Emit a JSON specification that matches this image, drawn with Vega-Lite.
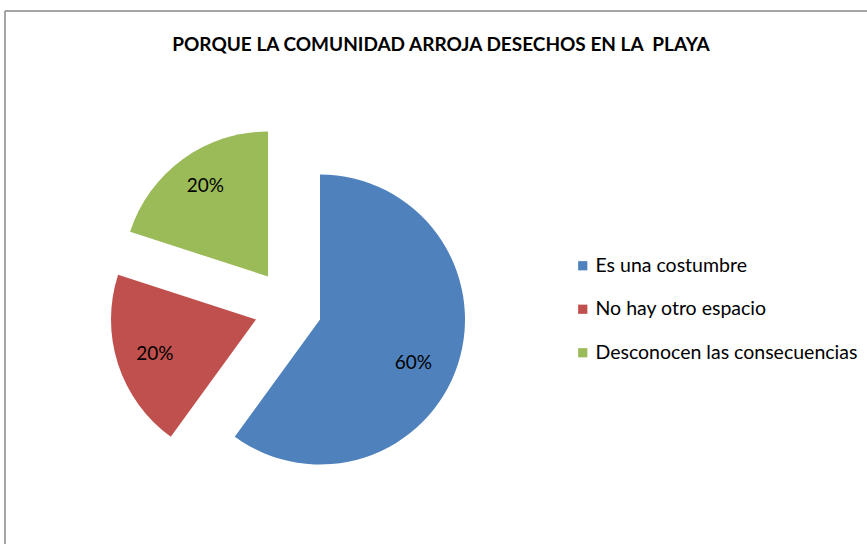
{
  "$schema": "https://vega.github.io/schema/vega-lite/v6.json",
  "width": 862,
  "height": 533,
  "autosize": {"type": "none"},
  "padding": {"left": 5, "top": 11, "right": 0, "bottom": 0},
  "background": "white",
  "config": {"view": {"stroke": null}, "font": "Lato"},
  "title": {
    "text": "PORQUE LA COMUNIDAD ARROJA DESECHOS EN LA \u00a0PLAYA",
    "fontSize": 19,
    "fontWeight": "bold",
    "font": "Lato",
    "color": "#000000",
    "anchor": "middle",
    "offset": -45,
    "dx": 5
  },
  "data": {
    "values": [
      {"causa": "Es una costumbre", "porcentaje": 0.6},
      {"causa": "No hay otro espacio", "porcentaje": 0.2},
      {"causa": "Desconocen las consecuencias", "porcentaje": 0.2}
    ]
  },
  "transform": [
    {"stack": "porcentaje", "groupby": [], "as": ["inicio", "fin"]}
  ],
  "layer": [
    {
      "data": {"values": [{}]},
      "mark": {"type": "rule", "color": "#878787", "strokeWidth": 1.5},
      "encoding": {"x": {"value": 0}}
    },
    {
      "data": {"values": [{}]},
      "mark": {"type": "rule", "color": "#878787", "strokeWidth": 1.5},
      "encoding": {"y": {"value": 0}}
    },
    {
      "transform": [{"filter": "datum.causa === 'Es una costumbre'"}],
      "mark": {"type": "arc", "outerRadius": 145, "xOffset": -116, "yOffset": 42},
      "encoding": {
        "theta": {"field": "inicio", "type": "quantitative", "scale": {"domain": [0, 1], "range": [0, 6.283185307179586]}},
        "theta2": {"field": "fin"},
        "color": {
          "field": "causa", "type": "nominal",
          "scale": {"domain": ["Es una costumbre", "No hay otro espacio", "Desconocen las consecuencias"], "range": ["#4F81BD", "#C0504D", "#9BBB59"]},
          "legend": {
            "title": null, "orient": "none", "legendX": 568, "legendY": 245,
            "symbolType": "square", "symbolSize": 85, "symbolStrokeWidth": 0,
            "labelFontSize": 19.5, "labelFont": "Lato", "labelColor": "#000000",
            "rowPadding": 22.5, "labelOffset": 3, "labelLimit": 400
          }
        }
      }
    },
    {
      "transform": [{"filter": "datum.causa === 'No hay otro espacio'"}],
      "mark": {"type": "arc", "outerRadius": 145, "xOffset": -180, "yOffset": 42},
      "encoding": {
        "theta": {"field": "inicio", "type": "quantitative"},
        "theta2": {"field": "fin"},
        "color": {"field": "causa", "type": "nominal"}
      }
    },
    {
      "transform": [{"filter": "datum.causa === 'Desconocen las consecuencias'"}],
      "mark": {"type": "arc", "outerRadius": 145, "xOffset": -168, "yOffset": -1},
      "encoding": {
        "theta": {"field": "inicio", "type": "quantitative"},
        "theta2": {"field": "fin"},
        "color": {"field": "causa", "type": "nominal"}
      }
    },
    {
      "transform": [{"filter": "datum.causa === 'Es una costumbre'"}],
      "mark": {"type": "text", "radius": 103, "thetaOffset": 2.007, "xOffset": -116, "yOffset": 42, "fontSize": 19, "font": "Lato", "color": "#000000"},
      "encoding": {
        "theta": {"field": "inicio", "type": "quantitative"},
        "text": {"field": "porcentaje", "type": "quantitative", "format": ".0%"}
      }
    },
    {
      "transform": [{"filter": "datum.causa === 'No hay otro espacio'"}],
      "mark": {"type": "text", "radius": 107, "thetaOffset": 0.611, "xOffset": -180, "yOffset": 42, "fontSize": 19, "font": "Lato", "color": "#000000"},
      "encoding": {
        "theta": {"field": "inicio", "type": "quantitative"},
        "text": {"field": "porcentaje", "type": "quantitative", "format": ".0%"}
      }
    },
    {
      "transform": [{"filter": "datum.causa === 'Desconocen las consecuencias'"}],
      "mark": {"type": "text", "radius": 110, "thetaOffset": 0.651, "xOffset": -168, "yOffset": -1, "fontSize": 19, "font": "Lato", "color": "#000000"},
      "encoding": {
        "theta": {"field": "inicio", "type": "quantitative"},
        "text": {"field": "porcentaje", "type": "quantitative", "format": ".0%"}
      }
    }
  ]
}
